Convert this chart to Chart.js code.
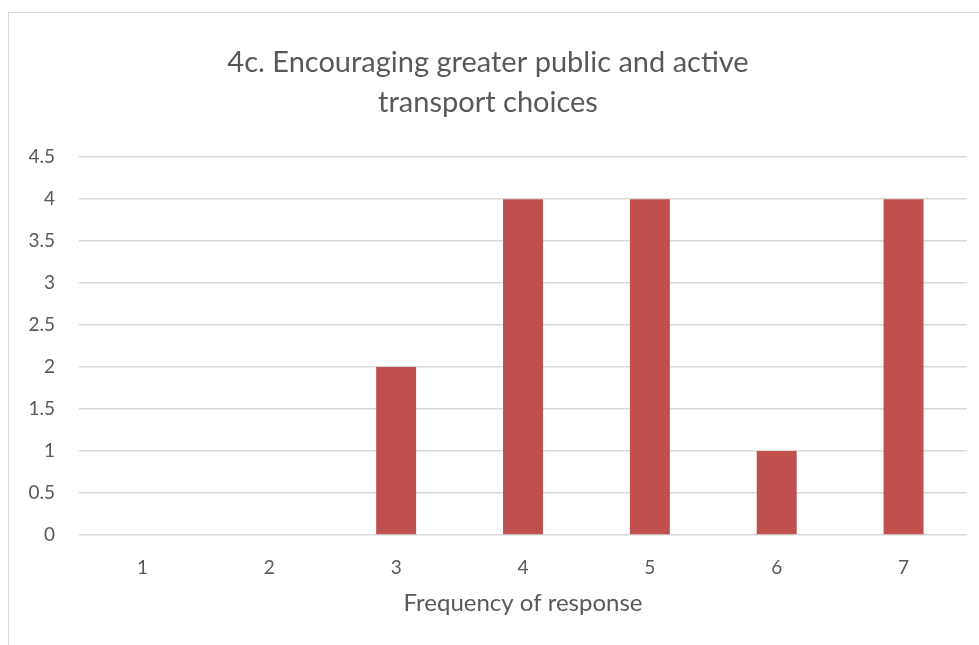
<!DOCTYPE html>
<html>
<head>
<meta charset="utf-8">
<script src="https://cdn.jsdelivr.net/npm/chart.js@4"></script>
<style>
  html, body { margin: 0; padding: 0; background: #fff; overflow: hidden; }
  .frame {
    position: absolute; left: 8px; top: 12px; width: 1000px; height: 700px;
    border: 1px solid #d9d9d9;
  }
  #myChart { position: absolute; left: 0; top: 0; }
</style>
</head>
<body>
<div class="frame"></div>
<canvas id="myChart" width="979" height="645"></canvas>
<script>
const categories = ["1", "2", "3", "4", "5", "6", "7"];
const responses = [0, 0, 2, 4, 4, 1, 4];
const titleLines = ["4c. Encouraging greater public and active", "transport choices"];
const xTitle = "Frequency of response";

const textColor = "#595959";
const gridColor = "#d9d9d9";
const fontFamily = "Lato, 'Open Sans', sans-serif";

const ctx = document.getElementById("myChart");
new Chart(ctx, {
  type: "bar",
  data: {
    labels: categories,
    datasets: [
      {
        label: "Responses",
        data: responses,
        backgroundColor: "#c0504d",
        borderWidth: 0,
        barPercentage: 0.315,
        categoryPercentage: 1,
      },
    ],
  },
  options: {
    responsive: false,
    animation: false,
    layout: { padding: { left: 9, right: 12, top: 42, bottom: 27 } },
    plugins: {
      legend: { display: false },
      tooltip: { enabled: false },
      title: {
        display: true,
        text: titleLines,
        color: textColor,
        font: { family: fontFamily, size: 29, weight: "normal", lineHeight: 1.4 },
        padding: { top: 0, bottom: 34 },
      },
    },
    scales: {
      x: {
        afterFit: (scale) => { scale.height = 83; },
        grid: { display: false, drawTicks: false },
        border: { display: false },
        ticks: { color: textColor, font: { family: fontFamily, size: 19, lineHeight: 1.2 }, padding: 21 },
        title: {
          display: true,
          text: xTitle,
          color: textColor,
          font: { family: fontFamily, size: 24, lineHeight: 1.2 },
          padding: { top: 13, bottom: 0 },
        },
      },
      y: {
        min: 0,
        max: 4.5,
        afterFit: (scale) => { scale.width = 70; },
        grid: { color: gridColor, lineWidth: 1.5, drawTicks: false },
        border: { display: false },
        ticks: {
          stepSize: 0.5,
          color: textColor,
          font: { family: fontFamily, size: 19 },
          padding: 24,
          callback: (v) => String(v),
        },
      },
    },
  },
});
</script>
</body>
</html>
